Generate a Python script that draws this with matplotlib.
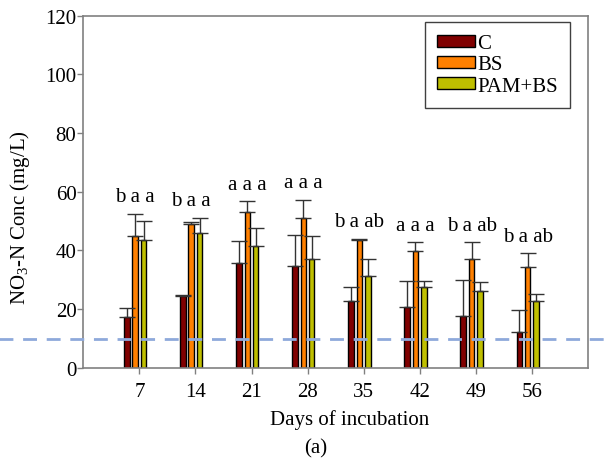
import numpy as np
import matplotlib
matplotlib.use("Agg")
from matplotlib import pyplot as plt

plt.rcParams['font.family'] = ['Liberation Serif', 'DejaVu Serif']
plt.rcParams['mathtext.fontset'] = 'custom'
plt.rcParams['mathtext.rm'] = 'Liberation Serif'

days = [7, 14, 21, 28, 35, 42, 49, 56]
c_mean = [17.4, 24.6, 35.9, 34.6, 22.8, 20.6, 17.6, 12.2]
c_err = [2.9, 0.3, 7.3, 10.6, 4.6, 9.0, 12.5, 7.4]
bs_mean = [45.0, 48.9, 53.0, 51.1, 43.4, 39.7, 37.0, 34.2]
bs_err = [7.5, 0.7, 3.7, 6.2, 0.5, 3.1, 5.8, 4.9]
pam_mean = [43.7, 46.0, 41.4, 37.2, 31.2, 27.4, 26.1, 22.8]
pam_err = [6.3, 5.1, 6.1, 7.8, 5.9, 2.2, 3.0, 2.3]
letters = ["b a a", "b a a", "a a a", "a a a", "b a ab", "a a a", "b a ab", "b a ab"]
threshold = 10

fig = plt.figure(figsize=(6.13, 4.6), dpi=100)
ax = fig.add_axes([0.136, 0.198, 0.823, 0.766])

x = np.arange(len(days))
w = 0.1
pitch = 0.148
shift = -0.075
series = [(c_mean, c_err, '#800000', 'C'),
          (bs_mean, bs_err, '#FF8000', 'BS'),
          (pam_mean, pam_err, '#BFBF00', 'PAM+BS')]

for i, (m, e, col, lab) in enumerate(series):
    xs = x + shift + (i - 1) * pitch
    ax.bar(xs, m, w, color=col, edgecolor='black', linewidth=1, label=lab, zorder=2)
    ax.errorbar(xs, m, yerr=[np.zeros(len(m)), e], fmt='none', ecolor='#333333',
                elinewidth=1, capsize=5.5, capthick=1, zorder=3)

# significance letters above each group
tops = np.max([np.array(m) + np.array(e) for m, e, _, _ in series], axis=0)
for xi, t, s in zip(x, tops, letters):
    ax.text(xi + shift, t + 5.8, s, ha='center', va='center', fontsize=15)

# dashed reference line across the whole figure
ax.axhline(threshold, xmin=-0.17, xmax=1.06, color='#8EA9DB', lw=2,
           dashes=(5, 3.5), clip_on=False, zorder=4)

ax.set_xlim(-1, 8)
ax.set_ylim(0, 120)
ax.set_xticks(x)
ax.set_xticklabels([str(d) for d in days])
ax.set_yticks(range(0, 121, 20))
ax.tick_params(labelsize=15, length=4, color='#808080', width=1, pad=6)
ax.tick_params(axis='y', pad=1)
for sp in ax.spines.values():
    sp.set_color('#808080')
    sp.set_linewidth(1.2)

fig.text(0.033, 0.528, 'NO$_3$-N Conc (mg/L)', rotation=90, ha='center', va='center', fontsize=15)
fig.text(0.571, 0.087, 'Days of incubation', ha='center', va='center', fontsize=15)
fig.text(0.515, 0.004, '(a)', ha='center', va='bottom', fontsize=15)

leg = ax.legend(loc='upper left', bbox_to_anchor=(0.677, 0.982), borderaxespad=0,
                fontsize=15, handlelength=1.8, handleheight=0.48, handletextpad=0.1,
                labelspacing=0.1, fancybox=False, framealpha=1, borderpad=0.6)
leg.get_frame().set_edgecolor('#404040')
leg.get_frame().set_linewidth(1)

fig.savefig('out.png', dpi=100)
